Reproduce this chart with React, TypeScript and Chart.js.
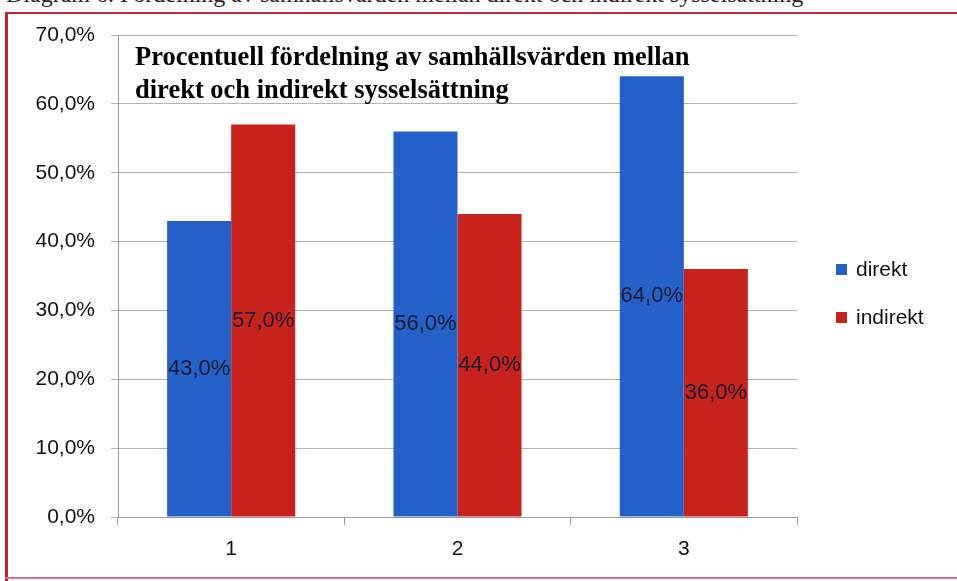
import React, { useEffect, useRef } from "react";
import { Chart, registerables } from "chart.js";

Chart.register(...registerables);

const categories = ["1", "2", "3"];
const direktValues = [43, 56, 64];
const indirektValues = [57, 44, 36];
const seriesNames = ["direkt", "indirekt"];
const titleLines = [
  "Procentuell fördelning av samhällsvärden mellan",
  "direkt och indirekt sysselsättning",
];
const captionText = "Diagram 6. Fördelning av samhällsvärden mellan direkt och indirekt sysselsättning";

const BLUE = "#2361c8";
const RED = "#c8221c";
const SANS = "'Liberation Sans', Arial, sans-serif";

const fmt = (v: number) => v.toFixed(1).replace(".", ",") + "%";

const overlayPlugin = {
  id: "overlay",
  afterDatasetsDraw(chart: any) {
    const ctx = chart.ctx;
    const area = chart.chartArea;
    ctx.save();
    // data labels centred in bars
    ctx.font = `22px ${SANS}`;
    ctx.fillStyle = "#1b1b33";
    ctx.textAlign = "center";
    ctx.textBaseline = "middle";
    chart.data.datasets.forEach((ds: any, di: number) => {
      const meta = chart.getDatasetMeta(di);
      meta.data.forEach((el: any, i: number) => {
        const y = (el.y + el.base) / 2;
        ctx.fillText(fmt(ds.data[i]), el.x, y);
      });
    });
    // title inside plot
    ctx.font = `bold 26.5px 'Liberation Serif', 'Times New Roman', serif`;
    ctx.fillStyle = "#000";
    ctx.textAlign = "left";
    ctx.textBaseline = "alphabetic";
    ctx.fillText(titleLines[0], area.left + 17, 65);
    ctx.fillText(titleLines[1], area.left + 17, 98);
    // legend
    ctx.font = `21px ${SANS}`;
    ctx.textBaseline = "middle";
    chart.data.datasets.forEach((ds: any, di: number) => {
      const cy = 270 + di * 48;
      ctx.fillStyle = ds.backgroundColor;
      ctx.fillRect(area.right + 39, cy - 6, 11, 11);
      ctx.fillStyle = "#111";
      ctx.fillText(ds.label, area.right + 59, cy);
    });
    ctx.restore();
  },
};

export default function App() {
  const ref = useRef<HTMLCanvasElement | null>(null);
  useEffect(() => {
    if (!ref.current) return;
    const chart = new Chart(ref.current, {
      type: "bar",
      data: {
        labels: categories,
        datasets: [
          { label: seriesNames[0], data: direktValues, backgroundColor: BLUE, categoryPercentage: 0.566, barPercentage: 1 },
          { label: seriesNames[1], data: indirektValues, backgroundColor: RED, categoryPercentage: 0.566, barPercentage: 1 },
        ],
      },
      plugins: [overlayPlugin],
      options: {
        responsive: false,
        animation: false,
        layout: { padding: { top: 35, right: 160, bottom: 0, left: 0 } },
        plugins: { legend: { display: false }, tooltip: { enabled: false }, title: { display: false } },
        scales: {
          x: {
            afterFit: (s: any) => { s.height = 64; },
            grid: { display: true, drawOnChartArea: false, tickLength: 8, color: "#9a9a9a", offset: true },
            border: { display: true, color: "#9a9a9a" },
            ticks: { color: "#111", font: { size: 21, family: SANS }, padding: 12 },
          },
          y: {
            min: 0,
            max: 70,
            afterFit: (s: any) => { s.width = 118; },
            grid: { color: "#b4b4b4", tickLength: 7 },
            border: { display: true, color: "#9a9a9a" },
            ticks: {
              stepSize: 10,
              color: "#111",
              padding: 16,
              font: { size: 21, family: SANS },
              callback: (v: any) => fmt(Number(v)),
            },
          },
        },
      },
    });
    return () => chart.destroy();
  }, []);

  return (
    <div style={{ position: "fixed", left: 0, top: 0, width: 957, height: 581, background: "#fff", overflow: "hidden" }}>
      <div
        style={{
          position: "absolute",
          left: 6,
          top: -19,
          whiteSpace: "nowrap",
          fontFamily: "'Liberation Serif', serif",
          fontSize: 24,
          color: "#222",
        }}
      >
        {captionText}
      </div>
      <div style={{ position: "absolute", left: 5, top: 12, width: 960, height: 2, background: "#c8283c" }} />
      <div style={{ position: "absolute", left: 5, top: 12, width: 3, height: 575, background: "#c41e2e" }} />
      <div style={{ position: "absolute", left: 5, top: 577, width: 960, height: 2, background: "#e07080" }} />
      <canvas ref={ref} width={957} height={581} style={{ position: "absolute", left: 0, top: 0 }} />
    </div>
  );
}
